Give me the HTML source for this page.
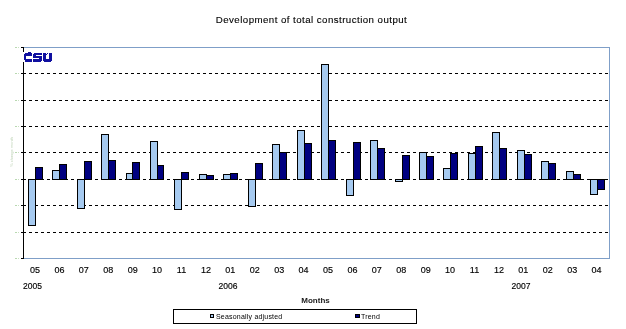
<!DOCTYPE html>
<html><head><meta charset="utf-8"><style>
html,body{margin:0;padding:0;background:#fff;width:626px;height:329px;overflow:hidden}
svg{display:block;will-change:transform}
.t{font-family:"Liberation Sans",sans-serif;font-size:9px;fill:#000;stroke:#000;stroke-width:0.15px}
.yr{font-family:"Liberation Sans",sans-serif;font-size:8.5px;fill:#000;stroke:#000;stroke-width:0.15px}
.mo{font-family:"Liberation Sans",sans-serif;font-size:8px;font-weight:bold;fill:#1a1a1a}
.ti{font-family:"Liberation Sans",sans-serif;font-size:9.7px;letter-spacing:0.45px;fill:#000;stroke:#000;stroke-width:0.12px}
.lg{font-family:"Liberation Sans",sans-serif;font-size:7px;letter-spacing:0.2px;fill:#000}
</style></head><body>
<svg width="626" height="329" viewBox="0 0 626 329" shape-rendering="crispEdges">
<line x1="23" y1="73.5" x2="608" y2="73.5" stroke="#000" stroke-width="1" stroke-dasharray="3 3"/>
<line x1="23" y1="100.5" x2="608" y2="100.5" stroke="#000" stroke-width="1" stroke-dasharray="3 3"/>
<line x1="23" y1="126.5" x2="608" y2="126.5" stroke="#000" stroke-width="1" stroke-dasharray="3 3"/>
<line x1="23" y1="152.5" x2="608" y2="152.5" stroke="#000" stroke-width="1" stroke-dasharray="3 3"/>
<line x1="23" y1="179.5" x2="608" y2="179.5" stroke="#000" stroke-width="1" stroke-dasharray="3 3"/>
<line x1="23" y1="205.5" x2="608" y2="205.5" stroke="#000" stroke-width="1" stroke-dasharray="3 3"/>
<line x1="23" y1="232.5" x2="608" y2="232.5" stroke="#000" stroke-width="1" stroke-dasharray="3 3"/>
<rect x="28.5" y="179.5" width="7" height="46" fill="#a6caf0" stroke="#000" stroke-width="1"/>
<rect x="35.5" y="167.5" width="7" height="12" fill="#000080" stroke="#000" stroke-width="1"/>
<rect x="52.5" y="170.5" width="7" height="9" fill="#a6caf0" stroke="#000" stroke-width="1"/>
<rect x="59.5" y="164.5" width="7" height="15" fill="#000080" stroke="#000" stroke-width="1"/>
<rect x="77.5" y="179.5" width="7" height="29" fill="#a6caf0" stroke="#000" stroke-width="1"/>
<rect x="84.5" y="161.5" width="7" height="18" fill="#000080" stroke="#000" stroke-width="1"/>
<rect x="101.5" y="134.5" width="7" height="45" fill="#a6caf0" stroke="#000" stroke-width="1"/>
<rect x="108.5" y="160.5" width="7" height="19" fill="#000080" stroke="#000" stroke-width="1"/>
<rect x="126.5" y="173.5" width="6" height="6" fill="#a6caf0" stroke="#000" stroke-width="1"/>
<rect x="132.5" y="162.5" width="7" height="17" fill="#000080" stroke="#000" stroke-width="1"/>
<rect x="150.5" y="141.5" width="7" height="38" fill="#a6caf0" stroke="#000" stroke-width="1"/>
<rect x="157.5" y="165.5" width="6" height="14" fill="#000080" stroke="#000" stroke-width="1"/>
<rect x="174.5" y="179.5" width="7" height="30" fill="#a6caf0" stroke="#000" stroke-width="1"/>
<rect x="181.5" y="172.5" width="7" height="7" fill="#000080" stroke="#000" stroke-width="1"/>
<rect x="199.5" y="174.5" width="7" height="5" fill="#a6caf0" stroke="#000" stroke-width="1"/>
<rect x="206.5" y="175.5" width="7" height="4" fill="#000080" stroke="#000" stroke-width="1"/>
<rect x="223.5" y="174.5" width="7" height="5" fill="#a6caf0" stroke="#000" stroke-width="1"/>
<rect x="230.5" y="173.5" width="7" height="6" fill="#000080" stroke="#000" stroke-width="1"/>
<rect x="248.5" y="179.5" width="7" height="27" fill="#a6caf0" stroke="#000" stroke-width="1"/>
<rect x="255.5" y="163.5" width="7" height="16" fill="#000080" stroke="#000" stroke-width="1"/>
<rect x="272.5" y="144.5" width="7" height="35" fill="#a6caf0" stroke="#000" stroke-width="1"/>
<rect x="279.5" y="152.5" width="7" height="27" fill="#000080" stroke="#000" stroke-width="1"/>
<rect x="297.5" y="130.5" width="7" height="49" fill="#a6caf0" stroke="#000" stroke-width="1"/>
<rect x="304.5" y="143.5" width="7" height="36" fill="#000080" stroke="#000" stroke-width="1"/>
<rect x="321.5" y="64.5" width="7" height="115" fill="#a6caf0" stroke="#000" stroke-width="1"/>
<rect x="328.5" y="140.5" width="7" height="39" fill="#000080" stroke="#000" stroke-width="1"/>
<rect x="346.5" y="179.5" width="7" height="16" fill="#a6caf0" stroke="#000" stroke-width="1"/>
<rect x="353.5" y="142.5" width="7" height="37" fill="#000080" stroke="#000" stroke-width="1"/>
<rect x="370.5" y="140.5" width="7" height="39" fill="#a6caf0" stroke="#000" stroke-width="1"/>
<rect x="377.5" y="148.5" width="7" height="31" fill="#000080" stroke="#000" stroke-width="1"/>
<rect x="395.5" y="179.5" width="7" height="2" fill="#a6caf0" stroke="#000" stroke-width="1"/>
<rect x="402.5" y="155.5" width="7" height="24" fill="#000080" stroke="#000" stroke-width="1"/>
<rect x="419.5" y="152.5" width="7" height="27" fill="#a6caf0" stroke="#000" stroke-width="1"/>
<rect x="426.5" y="156.5" width="7" height="23" fill="#000080" stroke="#000" stroke-width="1"/>
<rect x="443.5" y="168.5" width="7" height="11" fill="#a6caf0" stroke="#000" stroke-width="1"/>
<rect x="450.5" y="153.5" width="7" height="26" fill="#000080" stroke="#000" stroke-width="1"/>
<rect x="468.5" y="153.5" width="7" height="26" fill="#a6caf0" stroke="#000" stroke-width="1"/>
<rect x="475.5" y="146.5" width="7" height="33" fill="#000080" stroke="#000" stroke-width="1"/>
<rect x="492.5" y="132.5" width="7" height="47" fill="#a6caf0" stroke="#000" stroke-width="1"/>
<rect x="499.5" y="148.5" width="7" height="31" fill="#000080" stroke="#000" stroke-width="1"/>
<rect x="517.5" y="150.5" width="7" height="29" fill="#a6caf0" stroke="#000" stroke-width="1"/>
<rect x="524.5" y="154.5" width="7" height="25" fill="#000080" stroke="#000" stroke-width="1"/>
<rect x="541.5" y="161.5" width="7" height="18" fill="#a6caf0" stroke="#000" stroke-width="1"/>
<rect x="548.5" y="163.5" width="7" height="16" fill="#000080" stroke="#000" stroke-width="1"/>
<rect x="566.5" y="171.5" width="7" height="8" fill="#a6caf0" stroke="#000" stroke-width="1"/>
<rect x="573.5" y="174.5" width="7" height="5" fill="#000080" stroke="#000" stroke-width="1"/>
<rect x="590.5" y="179.5" width="7" height="15" fill="#a6caf0" stroke="#000" stroke-width="1"/>
<rect x="597.5" y="179.5" width="7" height="10" fill="#000080" stroke="#000" stroke-width="1"/>
<path d="M23.5 47.5H609.5V258.5H23.5" fill="none" stroke="#7f9fc8" stroke-width="1"/>
<line x1="23.5" y1="47" x2="23.5" y2="259" stroke="#000" stroke-width="1"/>
<line x1="21" y1="47.5" x2="24" y2="47.5" stroke="#000" stroke-width="1"/>
<line x1="21" y1="258.5" x2="24" y2="258.5" stroke="#000" stroke-width="1"/>
<line x1="21" y1="73.5" x2="26" y2="73.5" stroke="#000" stroke-width="1"/>
<line x1="21" y1="100.5" x2="26" y2="100.5" stroke="#000" stroke-width="1"/>
<line x1="21" y1="126.5" x2="26" y2="126.5" stroke="#000" stroke-width="1"/>
<line x1="21" y1="152.5" x2="26" y2="152.5" stroke="#000" stroke-width="1"/>
<line x1="21" y1="179.5" x2="26" y2="179.5" stroke="#000" stroke-width="1"/>
<line x1="21" y1="205.5" x2="26" y2="205.5" stroke="#000" stroke-width="1"/>
<line x1="21" y1="232.5" x2="26" y2="232.5" stroke="#000" stroke-width="1"/>
<rect x="15" y="47" width="2" height="1" fill="#b8d8b0"/><rect x="18" y="47" width="1" height="1" fill="#c8e0c0"/>
<rect x="15" y="73" width="2" height="1" fill="#b8d8b0"/><rect x="18" y="73" width="1" height="1" fill="#c8e0c0"/>
<rect x="15" y="100" width="2" height="1" fill="#b8d8b0"/><rect x="18" y="100" width="1" height="1" fill="#c8e0c0"/>
<rect x="15" y="126" width="2" height="1" fill="#b8d8b0"/><rect x="18" y="126" width="1" height="1" fill="#c8e0c0"/>
<rect x="15" y="152" width="2" height="1" fill="#b8d8b0"/><rect x="18" y="152" width="1" height="1" fill="#c8e0c0"/>
<rect x="15" y="179" width="2" height="1" fill="#b8d8b0"/><rect x="18" y="179" width="1" height="1" fill="#c8e0c0"/>
<rect x="15" y="205" width="2" height="1" fill="#b8d8b0"/><rect x="18" y="205" width="1" height="1" fill="#c8e0c0"/>
<rect x="15" y="232" width="2" height="1" fill="#b8d8b0"/><rect x="18" y="232" width="1" height="1" fill="#c8e0c0"/>
<rect x="15" y="258" width="2" height="1" fill="#b8d8b0"/><rect x="18" y="258" width="1" height="1" fill="#c8e0c0"/>
<text transform="translate(12.5 167) rotate(-90)" font-size="4" fill="#c0d4b8" font-family="Liberation Sans, sans-serif">% change month</text>
<rect x="22" y="52" width="31" height="10" fill="#fff"/><g fill="#1010a0"><rect x="25" y="53" width="7" height="3"/><rect x="24" y="54" width="2" height="6"/><rect x="25" y="59" width="7" height="3"/><rect x="24" y="60" width="1" height="0"/><rect x="28" y="52" width="3" height="1"/><rect x="34" y="53" width="8" height="2"/><rect x="33" y="54" width="1" height="1"/><rect x="33" y="55" width="3" height="1"/><rect x="33" y="56" width="9" height="2"/><rect x="39" y="58" width="3" height="1"/><rect x="33" y="59" width="8" height="3"/><rect x="41" y="59" width="1" height="2"/><rect x="43" y="53" width="3" height="7"/><rect x="49" y="53" width="3" height="7"/><rect x="44" y="59" width="7" height="3"/><rect x="43" y="60" width="1" height="1"/><rect x="51" y="60" width="1" height="1"/><rect x="47" y="53" width="1" height="1"/><rect x="46" y="54" width="1" height="1"/></g>
<text x="35.0" y="273" text-anchor="middle" class="t">05</text>
<text x="59.4" y="273" text-anchor="middle" class="t">06</text>
<text x="83.8" y="273" text-anchor="middle" class="t">07</text>
<text x="108.3" y="273" text-anchor="middle" class="t">08</text>
<text x="132.7" y="273" text-anchor="middle" class="t">09</text>
<text x="157.1" y="273" text-anchor="middle" class="t">10</text>
<text x="181.5" y="273" text-anchor="middle" class="t">11</text>
<text x="205.9" y="273" text-anchor="middle" class="t">12</text>
<text x="230.3" y="273" text-anchor="middle" class="t">01</text>
<text x="254.8" y="273" text-anchor="middle" class="t">02</text>
<text x="279.2" y="273" text-anchor="middle" class="t">03</text>
<text x="303.6" y="273" text-anchor="middle" class="t">04</text>
<text x="328.0" y="273" text-anchor="middle" class="t">05</text>
<text x="352.4" y="273" text-anchor="middle" class="t">06</text>
<text x="376.8" y="273" text-anchor="middle" class="t">07</text>
<text x="401.3" y="273" text-anchor="middle" class="t">08</text>
<text x="425.7" y="273" text-anchor="middle" class="t">09</text>
<text x="450.1" y="273" text-anchor="middle" class="t">10</text>
<text x="474.5" y="273" text-anchor="middle" class="t">11</text>
<text x="498.9" y="273" text-anchor="middle" class="t">12</text>
<text x="523.3" y="273" text-anchor="middle" class="t">01</text>
<text x="547.8" y="273" text-anchor="middle" class="t">02</text>
<text x="572.2" y="273" text-anchor="middle" class="t">03</text>
<text x="596.6" y="273" text-anchor="middle" class="t">04</text>
<text x="32.5" y="289" text-anchor="middle" class="yr">2005</text>
<text x="228" y="289" text-anchor="middle" class="yr">2006</text>
<text x="521" y="289" text-anchor="middle" class="yr">2007</text>
<text x="315.5" y="303" text-anchor="middle" class="mo">Months</text>
<text x="311.5" y="23" text-anchor="middle" class="ti">Development of total construction output</text>
<rect x="173.5" y="309.5" width="243" height="14" fill="#fff" stroke="#000" stroke-width="1"/>
<rect x="210.5" y="314.5" width="3" height="3" fill="#a6caf0" stroke="#000" stroke-width="1"/>
<rect x="355.5" y="314.5" width="4" height="3" fill="#000080" stroke="#000" stroke-width="1"/>
<text x="216" y="318.7" class="lg">Seasonally adjusted</text>
<text x="361" y="318.7" class="lg">Trend</text>
</svg>
</body></html>
